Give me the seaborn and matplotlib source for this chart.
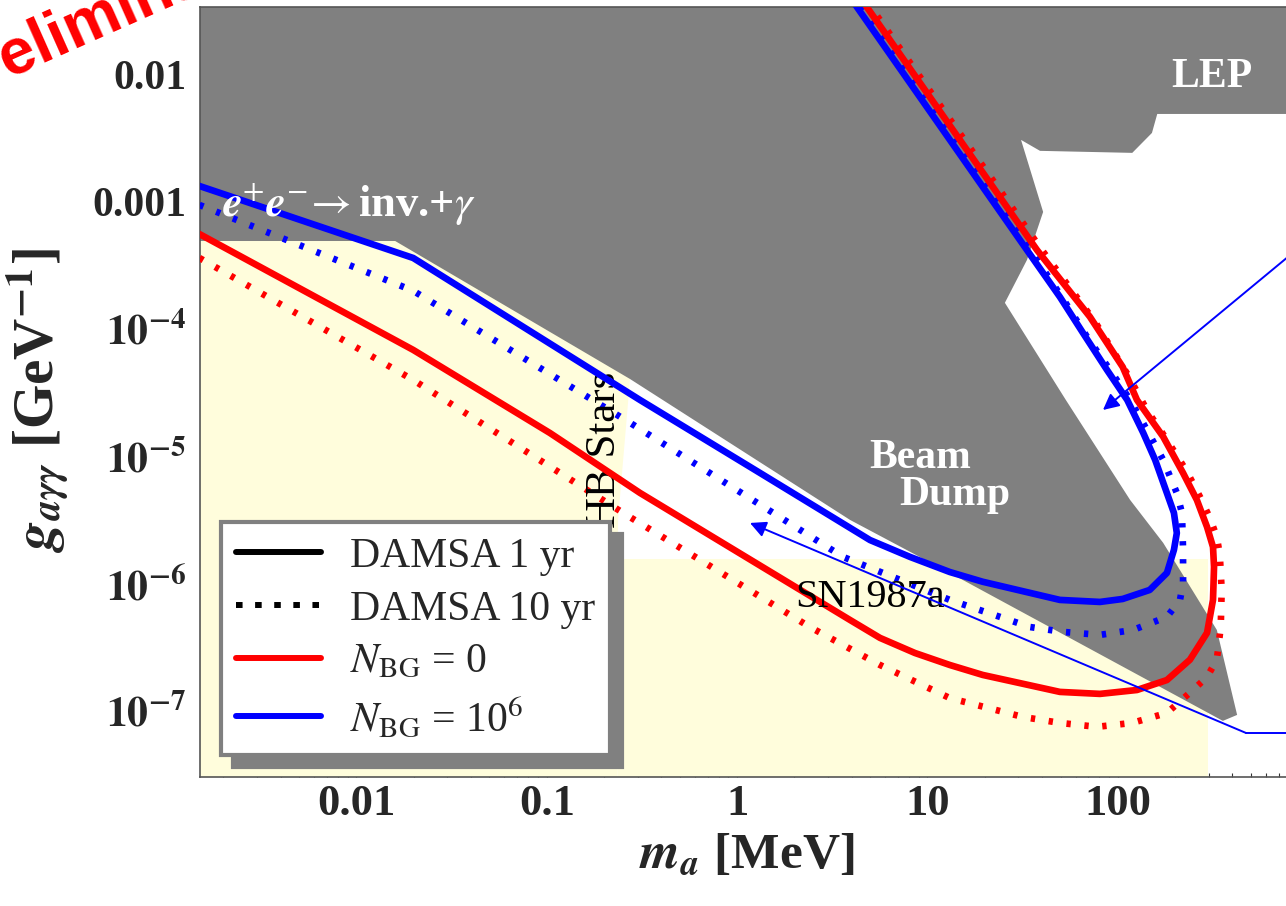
import numpy as np
import matplotlib
matplotlib.use("Agg")
import matplotlib.pyplot as plt
import seaborn as sns
from matplotlib.lines import Line2D
from matplotlib.ticker import LogLocator, NullFormatter

# ---------------- data (m_a in MeV, g in GeV^-1) ----------------
x_ticks = [0.01, 0.1, 1, 10, 100]
x_tick_labels = ["0.01", "0.1", "1", "10", "100"]
y_ticks = [1e-7, 1e-6, 1e-5, 1e-4, 1e-3, 1e-2]
y_tick_labels = [r"$\mathbf{10^{-7}}$", r"$\mathbf{10^{-6}}$", r"$\mathbf{10^{-5}}$",
                 r"$\mathbf{10^{-4}}$", "0.001", "0.01"]

blue_1yr_m = [0.0015, 0.0199, 0.309, 1.32, 4.99, 8.09, 13.1, 19.5, 49.6, 80.5, 106, 147, 181,
              197, 204, 197, 177, 157, 136, 112, 87.7, 65.6, 49.6, 33.3, 4.26, 3.0]
blue_1yr_g = [1.33e-3, 3.62e-4, 2.78e-5, 7.43e-6, 2.21e-6, 1.63e-6, 1.24e-6, 1.04e-6, 7.49e-7,
              7.22e-7, 7.62e-7, 8.97e-7, 1.22e-6, 1.85e-6, 2.51e-6, 3.61e-6, 5.67e-6, 9.4e-6,
              1.53e-5, 2.78e-5, 4.78e-5, 9.33e-5, 1.79e-4, 4.18e-4, 0.0338, 0.0714]

blue_10yr_m = [0.0015, 0.0199, 0.274, 3.6, 13.1, 34.5, 51.5, 80.5, 120, 181, 212, 220, 220, 217,
               204, 173, 142, 116, 91, 68.9, 52.7, 35.3, 4.52, 3.2]
blue_10yr_g = [9.44e-4, 2.0e-4, 1.84e-5, 1.63e-6, 7.49e-7, 4.59e-7, 4.2e-7, 3.98e-7, 4.35e-7,
               5.51e-7, 7.49e-7, 1.02e-6, 1.85e-6, 3.61e-6, 5.18e-6, 9.4e-6, 1.62e-5, 2.78e-5,
               4.78e-5, 8.69e-5, 1.64e-4, 4.04e-4, 0.0338, 0.0706]

red_1yr_m = [0.0015, 0.0199, 0.104, 0.309, 3.92, 5.63, 8.59, 13.1, 19.5, 49.6, 80.5, 126, 181,
             239, 294, 316, 320, 316, 294, 260, 220, 173, 126, 106, 71.3, 37.6, 4.80, 3.39]
red_1yr_g = [5.58e-4, 6.87e-5, 1.53e-5, 5.18e-6, 5.21e-7, 3.77e-7, 2.87e-7, 2.31e-7, 1.93e-7,
             1.42e-7, 1.37e-7, 1.47e-7, 1.76e-7, 2.54e-7, 4.13e-7, 7.49e-7, 1.36e-6, 1.95e-6,
             2.8e-6, 4.56e-6, 7.43e-6, 1.43e-5, 2.78e-5, 5.05e-5, 1.25e-4, 4.18e-4, 0.0338, 0.0711]

red_10yr_m = [0.0015, 0.0199, 0.252, 2.41, 5.63, 13.1, 31.7, 49.6, 77.6, 119, 181, 248, 294, 331,
              347, 351, 347, 343, 331, 304, 270, 231, 181, 142, 113, 75.9, 39.9, 5.04, 3.56]
red_10yr_g = [3.62e-4, 3.99e-5, 3.61e-6, 4.59e-7, 2.31e-7, 1.27e-7, 9.03e-8, 8.11e-8, 7.55e-8,
              8.11e-8, 9.71e-8, 1.47e-7, 1.86e-7, 2.54e-7, 4.6e-7, 8.97e-7, 1.22e-6, 1.69e-6,
              2.34e-6, 3.3e-6, 4.82e-6, 7.57e-6, 1.35e-5, 2.32e-5, 4.36e-5, 1.14e-4, 4.18e-4,
              0.0338, 0.0711]

# excluded regions
excl_m = [0.001, 2000, 2000, 161, 151, 119, 39.0, 31.0, 40.5, 33.3, 25.5, 53.3, 116, 173, 331,
          423, 356, 13.1, 3.92, 0.274, 0.016, 0.001]
excl_g = [0.1, 0.1, 4.89e-3, 4.89e-3, 3.47e-3, 2.42e-3, 2.51e-3, 3.06e-3, 8.32e-4, 3.49e-4,
          1.61e-4, 2.78e-5, 4.56e-6, 2.1e-6, 4.35e-7, 9.37e-8, 8.41e-8, 1.22e-6, 3.18e-6,
          4.06e-5, 4.92e-4, 4.92e-4]
hb_m = [0.001, 0.001, 0.30, 0.274, 0.237, 0.236]
hb_g = [1e-8, 4.92e-4, 4.92e-4, 4.06e-5, 3.18e-6, 1e-8]
sn_m = [0.236, 0.236, 297, 297]
sn_g = [1e-8, 1.57e-6, 1.57e-6, 1e-8]

# annotation arrows
lep_arrow_m = [1000, 83.5]
lep_arrow_g = [5.0e-4, 2.32e-5]
sn_arrow_m = [1000, 471, 1.169]
sn_arrow_g = [6.76e-8, 6.76e-8, 3.01e-6]

legend_labels = ["DAMSA 1 yr", "DAMSA 10 yr", r"$N_{\mathrm{BG}}$ = 0", r"$N_{\mathrm{BG}}$ = 10$^{6}$"]

# ---------------- style ----------------
sns.set_style("ticks")
plt.rcParams["font.family"] = ["Liberation Serif", "DejaVu Serif"]
plt.rcParams["mathtext.fontset"] = "stix"

GRAY = "#808080"
YELLOW = "#FFFDDC"

fig = plt.figure(figsize=(12.86, 9.06), dpi=100)
ax = fig.add_axes([200 / 1286, 129 / 906, 1086 / 1286, 770 / 906])
ax.set_xscale("log")
ax.set_yscale("log")

ax.fill(hb_m, hb_g, color=YELLOW, lw=0, zorder=1)
ax.fill(sn_m, sn_g, color=YELLOW, lw=0, zorder=1)
ax.fill(excl_m, excl_g, color=GRAY, lw=0, zorder=2)

dot_style = (0, (0.65, 2.05))
sns.lineplot(x=blue_10yr_m, y=blue_10yr_g, sort=False, estimator=None, ax=ax, color="blue",
             lw=4.8, linestyle=dot_style, dash_capstyle="butt", zorder=3, legend=False)
sns.lineplot(x=red_10yr_m, y=red_10yr_g, sort=False, estimator=None, ax=ax, color="red",
             lw=4.8, linestyle=dot_style, dash_capstyle="butt", zorder=3, legend=False)
sns.lineplot(x=blue_1yr_m, y=blue_1yr_g, sort=False, estimator=None, ax=ax, color="blue",
             lw=4.8, zorder=4, legend=False)
sns.lineplot(x=red_1yr_m, y=red_1yr_g, sort=False, estimator=None, ax=ax, color="red",
             lw=4.8, zorder=4, legend=False)

# arrows
ax.annotate("", xy=(lep_arrow_m[1], lep_arrow_g[1]), xytext=(lep_arrow_m[0], lep_arrow_g[0]),
            arrowprops=dict(arrowstyle="-|>", color="blue", lw=1.4, mutation_scale=24,
                            shrinkA=0, shrinkB=0), zorder=6, annotation_clip=False)
ax.plot(sn_arrow_m[:2], sn_arrow_g[:2], color="blue", lw=1.4, zorder=6, clip_on=False)
ax.annotate("", xy=(sn_arrow_m[2], sn_arrow_g[2]), xytext=(sn_arrow_m[1], sn_arrow_g[1]),
            arrowprops=dict(arrowstyle="-|>", color="blue", lw=1.4, mutation_scale=24,
                            shrinkA=0, shrinkB=0), zorder=6)

# texts
ax.text(312, 9.55e-3, "LEP", color="white", fontsize=30, fontweight="bold",
        ha="center", va="center", zorder=5)
ax.text(9.12, 9.75e-6, "Beam", color="white", fontsize=30, fontweight="bold",
        ha="center", va="center", zorder=5)
ax.text(13.9, 5.0e-6, "Dump", color="white", fontsize=30, fontweight="bold",
        ha="center", va="center", zorder=5)
ax.text(0.00198, 9.44e-4, r"$\mathbfit{e}^{+}\mathbfit{e}^{-}\!\rightarrow$inv.+$\gamma$",
        color="white", fontsize=32, fontweight="bold", ha="left", va="center", zorder=5)
ax.text(0.203, 1.12e-5, "HB Stars", rotation=90, fontsize=31, color="black",
        ha="center", va="center", zorder=3.5)
ax.text(4.98, 7.76e-7, "SN1987a", fontsize=29, color="black", ha="center", va="center", zorder=5)

# axes
ax.set_xlim(0.00151, 764)
ax.set_ylim(3.05e-8, 0.0338)
ax.set_xticks(x_ticks, labels=x_tick_labels)
ax.set_yticks(y_ticks, labels=y_tick_labels)
ax.xaxis.set_minor_locator(LogLocator(base=10, subs=np.arange(2, 10), numticks=100))
ax.yaxis.set_minor_locator(LogLocator(base=10, subs=np.arange(2, 10), numticks=100))
ax.xaxis.set_minor_formatter(NullFormatter())
ax.yaxis.set_minor_formatter(NullFormatter())
ax.tick_params(which="both", direction="in", top=True, right=False, color="#333333", width=0.8)
ax.tick_params(which="major", length=4)
ax.tick_params(which="minor", length=2.6)
ax.tick_params(axis="y", pad=10)
ax.tick_params(axis="x", pad=5)
for lbl in ax.get_xticklabels():
    lbl.set_fontweight("bold")
    lbl.set_fontsize(32)
for lbl in ax.get_yticklabels():
    lbl.set_fontweight("bold")
    lbl.set_fontsize(30)
for side in ["left", "bottom", "top"]:
    ax.spines[side].set_color("#555555")
    ax.spines[side].set_linewidth(1.2)
ax.spines["right"].set_visible(False)

ax.set_xlabel(r"$\mathbfit{m_a}$ [MeV]", fontsize=37, fontweight="bold")
ax.set_ylabel(r"$\mathbfit{g_{a\gamma\gamma}}$ [GeV$^{\mathbf{-1}}$]", fontsize=41, fontweight="bold")
ax.xaxis.set_label_coords(0.503, -0.073)
ax.yaxis.set_label_coords(-0.118, 0.49)

# legend
handles = [Line2D([], [], color="black", lw=4.3),
           Line2D([], [], color="black", lw=4.3, linestyle=(0, (1.1, 2.1)), dash_capstyle="butt"),
           Line2D([], [], color="red", lw=4.3),
           Line2D([], [], color="blue", lw=4.3)]
leg = ax.legend(handles, legend_labels, loc="lower left", bbox_to_anchor=(0.0193, 0.0286),
                borderaxespad=0, frameon=True, fancybox=False,
                shadow={"ox": 8.5, "oy": -8.5, "facecolor": GRAY, "edgecolor": GRAY, "alpha": 1},
                prop={"family": "Liberation Serif", "size": 30}, handlelength=2.05,
                handletextpad=0.68, labelspacing=0.34, borderpad=0.36)
frame = leg.get_frame()
frame.set_edgecolor(GRAY)
frame.set_linewidth(3)
frame.set_facecolor("white")
frame.set_alpha(1)
leg.set_zorder(10)

# watermark
fig.text(-0.041, 0.885, "Preliminary", rotation=24, rotation_mode="anchor", ha="left",
         va="baseline", color="red", fontsize=46, fontweight="bold", family="Liberation Sans")

fig.savefig("out.png", dpi=100)
